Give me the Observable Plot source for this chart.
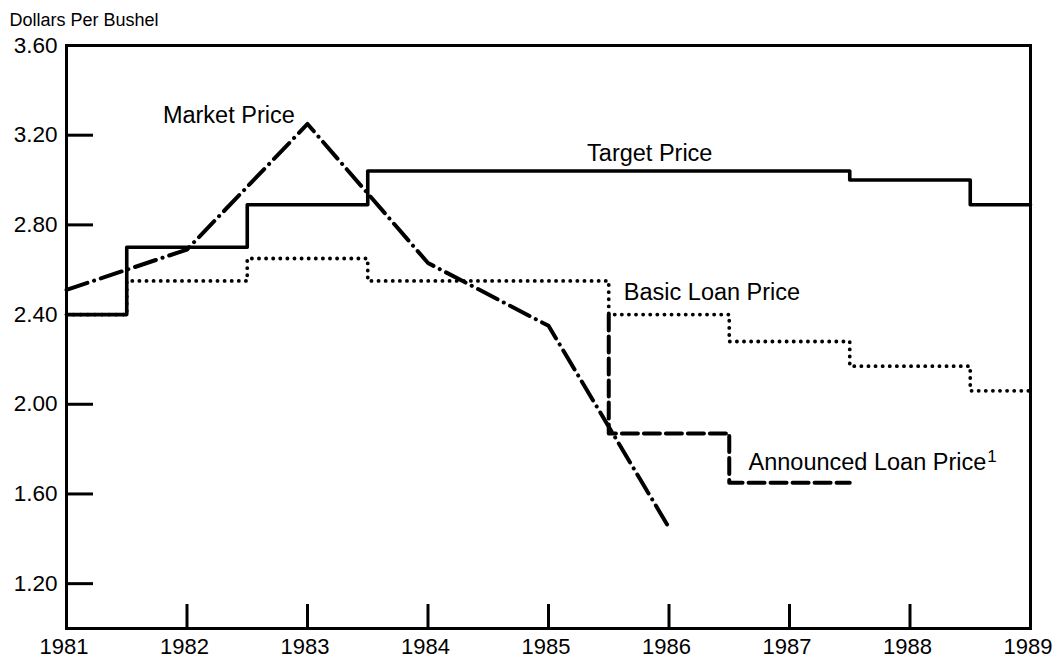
<!DOCTYPE html>
<html>
<head>
<meta charset="utf-8">
<script src="https://cdn.jsdelivr.net/npm/d3@7"></script>
<script src="https://cdn.jsdelivr.net/npm/@observablehq/plot@0.6"></script>
<style>
  html, body { margin: 0; padding: 0; background: #fff; }
  #chart svg { display: block; }
</style>
</head>
<body>
<div id="chart"></div>
<script>
// Tick labels
const xTicks = [1981, 1982, 1983, 1984, 1985, 1986, 1987, 1988, 1989];
const yTicks = [1.20, 1.60, 2.00, 2.40, 2.80, 3.20, 3.60];

// Target Price (step, value holds until next x)
const targetX = [1981, 1981.5, 1982.5, 1983.5, 1987.5, 1988.5, 1989];
const targetY = [2.40, 2.70, 2.89, 3.04, 3.00, 2.89, 2.89];

// Basic Loan Price (step)
const basicX = [1981, 1981.5, 1982.5, 1983.5, 1985.5, 1986.5, 1987.5, 1988.5, 1989];
const basicY = [2.40, 2.55, 2.65, 2.55, 2.40, 2.28, 2.17, 2.06, 2.06];

// Announced Loan Price (step)
const announcedX = [1985.5, 1985.5, 1986.5, 1987.5];
const announcedY = [2.40, 1.87, 1.65, 1.65];

// Market Price
const marketX = [1981, 1982, 1983, 1984, 1985, 1986];
const marketY = [2.51, 2.69, 3.25, 2.63, 2.35, 1.45];

// Series labels
const labelText = ["Market Price", "Target Price", "Basic Loan Price", "Announced Loan Price"];
const labelX = [1981.80, 1985.32, 1985.625, 1986.66];
const labelY = [3.29, 3.12, 2.50, 1.74];

const zip = (xs, ys) => xs.map((x, i) => ({x, y: ys[i]}));
const target = zip(targetX, targetY);
const basic = zip(basicX, basicY);
const announced = zip(announcedX, announcedY);
const market = zip(marketX, marketY);
const labels = labelText.map((t, i) => ({t, x: labelX[i], y: labelY[i]}));

const font = "'Liberation Sans', Arial, Helvetica, sans-serif";

const chart = Plot.plot({
  width: 1054,
  height: 658,
  marginTop: 45,
  marginBottom: 30,
  marginLeft: 66,
  marginRight: 24,
  style: {fontFamily: font, fontSize: "22px", color: "#000", background: "#fff"},
  x: {domain: [1981, 1989]},
  y: {domain: [1.0, 3.6]},
  marks: [
    Plot.frame({stroke: "#000", strokeWidth: 3}),
    // inward ticks
    Plot.axisY({ticks: yTicks, tickSize: -27, strokeWidth: 3, tickFormat: () => "", label: null}),
    Plot.axisX({ticks: xTicks, tickSize: -24, strokeWidth: 3, tickFormat: () => "", label: null}),
    // tick labels
    Plot.axisY({ticks: yTicks, tickSize: 0, tickPadding: 9, tickFormat: d => d.toFixed(2), fontSize: 22.5, label: null}),
    Plot.axisX({ticks: xTicks, tickSize: 0, tickPadding: 10, dx: -2.5, tickFormat: d => String(d), fontSize: 22, label: null}),
    Plot.text(["Dollars Per Bushel"], {frameAnchor: "top-left", dx: -57, dy: -32, textAnchor: "start", fontSize: 18}),
    // series
    Plot.line(basic, {x: "x", y: "y", curve: "step-after", stroke: "#000", strokeWidth: 3.8, strokeDasharray: "0.1 7", strokeLinecap: "round"}),
    Plot.line(target, {x: "x", y: "y", curve: "step-after", stroke: "#000", strokeWidth: 3.6}),
    Plot.line(announced, {x: "x", y: "y", curve: "step-after", stroke: "#000", strokeWidth: 4, strokeDasharray: "16 6"}),
    Plot.line(market, {x: "x", y: "y", stroke: "#000", strokeWidth: 4, strokeDasharray: "22 7 0.1 7", strokeLinecap: "round"}),
    Plot.text(labels, {x: "x", y: "y", text: "t", textAnchor: "start", fontSize: 23.5, fill: "#000"})
  ]
});

document.getElementById("chart").appendChild(chart);

// superscript footnote marker on the announced loan label
d3.select(chart).selectAll("text").filter(function() { return this.textContent === "Announced Loan Price"; })
  .append("tspan").attr("dy", "-8").attr("dx", "1").attr("font-size", 17).text("1");
</script>
</body>
</html>
